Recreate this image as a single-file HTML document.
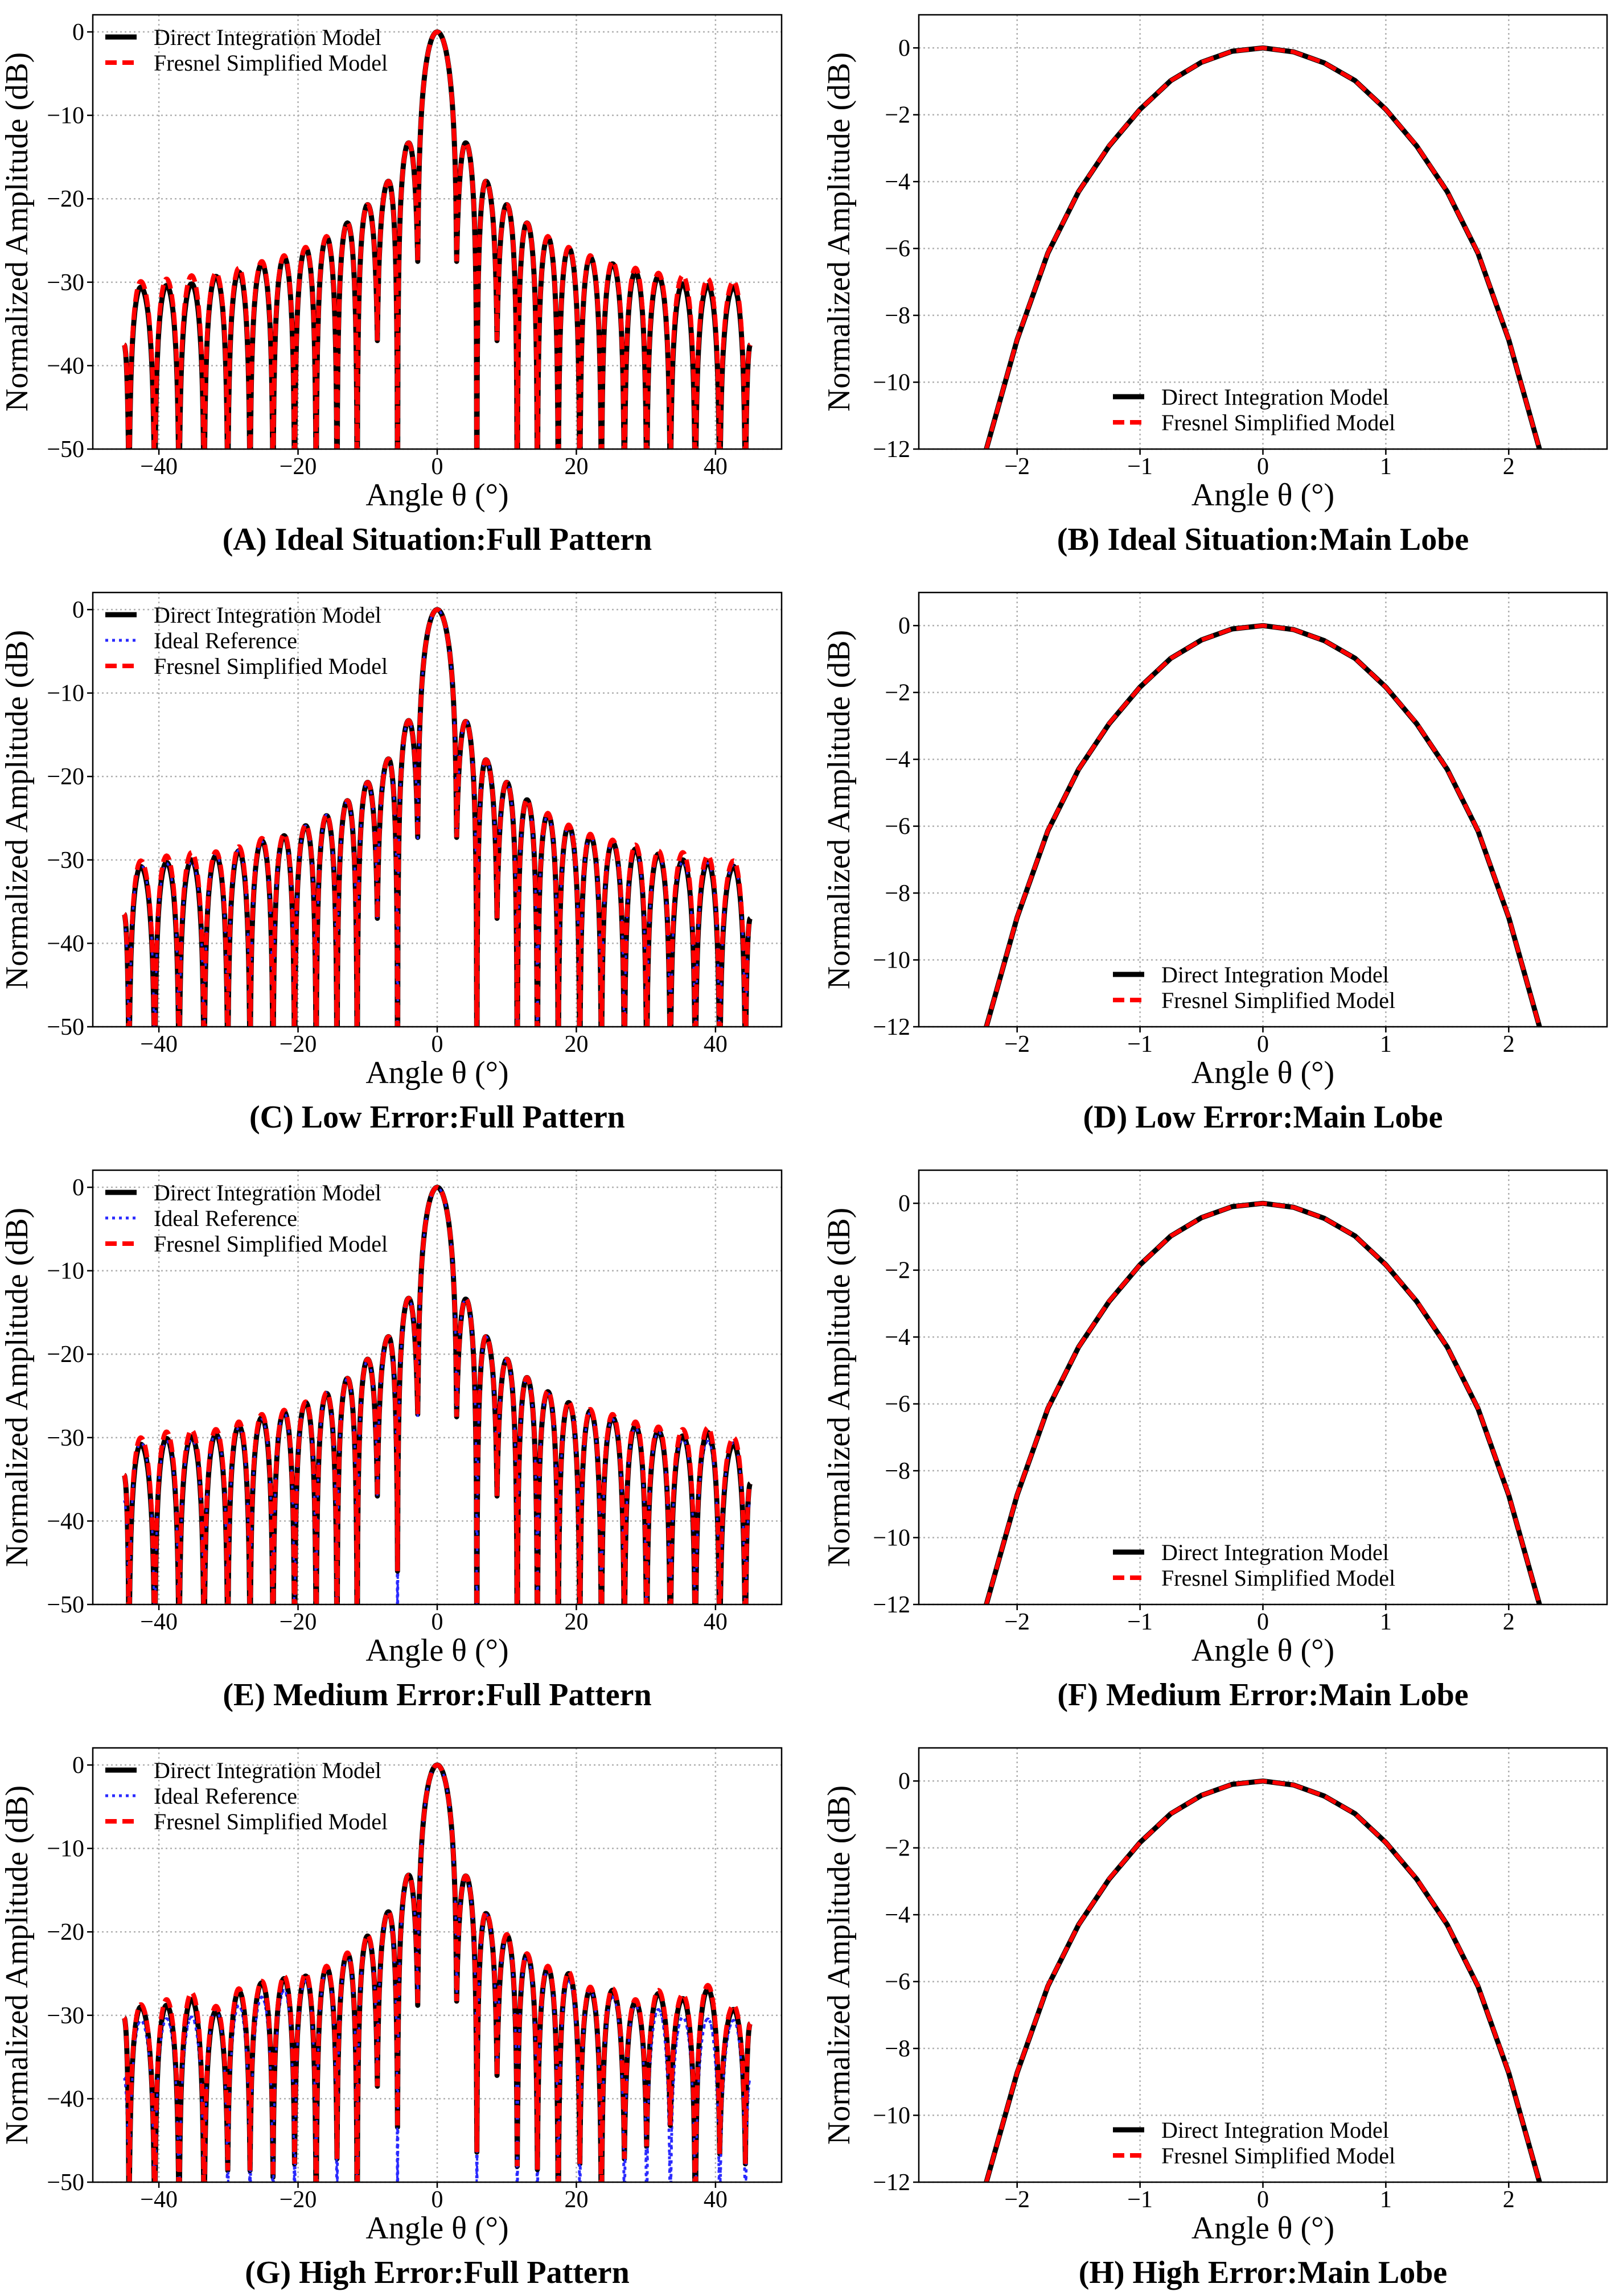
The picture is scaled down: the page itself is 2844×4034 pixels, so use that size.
<!DOCTYPE html>
<html><head><meta charset="utf-8">
<style>
html,body{margin:0;padding:0;background:#fff;}
svg{display:block;font-family:"Liberation Serif","DejaVu Serif",serif;}
</style></head>
<body>
<svg id="fig" xmlns="http://www.w3.org/2000/svg" width="2844" height="4034" viewBox="0 0 2844 4034"></svg>
<script>
// ---------- DATA ----------
const fullPeakAngles = [-42.6,-38.9,-35.3,-31.8,-28.5,-25.2,-22.0,-18.9,-15.9,-12.9,-10.0,-7.0,-4.1,0,4.1,7.0,10.0,12.9,15.9,18.9,22.0,25.2,28.5,31.8,35.3,38.9,42.6];
const fullDipAngles = [-44.3,-40.6,-37.1,-33.5,-30.1,-26.9,-23.6,-20.5,-17.4,-14.4,-11.5,-8.6,-5.7,-2.8,2.8,5.7,8.6,11.5,14.4,17.4,20.5,23.6,26.9,30.1,33.5,37.1,40.6,44.3];
const fullTicksX = [-40,-20,0,20,40];
const fullTicksY = [-50,-40,-30,-20,-10,0];

const idealPeaks = [-30.6,-30.4,-30.2,-29.3,-28.8,-27.8,-27.0,-25.9,-24.6,-22.9,-20.7,-17.9,-13.3,0,-13.3,-17.9,-20.7,-22.9,-24.6,-25.9,-27.0,-27.8,-28.8,-29.3,-30.2,-30.4,-30.6];
const idealFresnelPeaks = [-29.9,-29.6,-29.2,-28.9,-28.3,-27.5,-26.8,-25.8,-24.5,-22.9,-20.7,-17.9,-13.3,0,-13.3,-17.9,-20.7,-22.9,-24.5,-25.8,-26.8,-27.5,-28.3,-28.9,-29.2,-29.6,-29.9];
const idealDips = [-60,-60,-60,-60,-60,-60,-60,-60,-60,-60,-60,-37,-60,-27.5,-27.5,-60,-37,-60,-60,-60,-60,-60,-60,-60,-60,-60,-60,-60];

const lowPeaks = [-30.8,-30.3,-30.0,-29.5,-28.9,-27.7,-27.1,-25.9,-24.7,-22.9,-20.7,-17.9,-13.3,0,-13.4,-18.0,-20.7,-22.8,-24.5,-25.9,-27.1,-27.9,-28.7,-29.3,-30.0,-30.3,-30.8];
const lowFresnelPeaks = [-30.1,-29.5,-29.1,-29.0,-28.4,-27.4,-26.9,-25.8,-24.6,-22.9,-20.7,-17.9,-13.3,0,-13.4,-18.0,-20.7,-22.8,-24.4,-25.8,-26.9,-27.6,-28.2,-28.9,-29.1,-29.5,-30.1];
const lowDips = [-60,-60,-60,-60,-60,-60,-60,-60,-60,-60,-60,-37,-60,-27.3,-27.3,-60,-37,-60,-60,-60,-60,-60,-60,-60,-60,-60,-60,-60];

const medPeaks = [-30.8,-30.1,-29.9,-29.6,-28.6,-27.6,-26.9,-25.8,-24.7,-22.9,-20.6,-17.9,-13.3,0,-13.4,-17.9,-20.6,-22.8,-24.5,-25.8,-26.8,-27.6,-28.6,-29.2,-29.8,-29.4,-30.8];
const medFresnelPeaks = [-30.0,-29.3,-29.1,-29.0,-28.1,-27.2,-26.7,-25.7,-24.6,-22.9,-20.6,-17.9,-13.3,0,-13.4,-17.9,-20.6,-22.8,-24.4,-25.7,-26.6,-27.2,-28.1,-28.7,-29.0,-28.8,-30.0];
const medDips = [-60,-60,-60,-60,-60,-60,-60,-60,-60,-60,-60,-37,-46,-27.2,-27.5,-60,-37,-60,-60,-60,-60,-60,-60,-60,-60,-60,-60,-60];

const highPeaks = [-29.0,-28.8,-28.1,-29.5,-27.1,-26.1,-25.6,-25.3,-24.3,-22.6,-20.5,-17.6,-13.2,0,-13.3,-17.8,-20.4,-22.7,-24.3,-25.0,-26.9,-27.0,-28.4,-27.4,-28.0,-26.9,-29.3];
const highFresnelPeaks = [-28.7,-28.1,-27.3,-28.9,-26.8,-25.9,-25.3,-25.0,-24.1,-22.5,-20.4,-17.6,-13.2,0,-13.3,-17.7,-20.3,-22.6,-24.1,-24.8,-26.6,-26.8,-28.1,-27.0,-27.5,-26.4,-28.8];
const highDips = [-60,-60,-60,-60,-48.6,-48.6,-49.4,-47.8,-60,-47.2,-60,-38.5,-43.4,-28.8,-28.3,-46.4,-37.2,-48.1,-48.5,-60,-47.8,-60,-47.2,-45.7,-43.2,-60,-46.6,-47.8];

const fullEnds = {ideal:[-37.5,-37.5], low:[-36.5,-37.0], med:[-34.5,-35.5], high:[-30.3,-31.0]};

const mainAngles = [-2.25,-2.0,-1.75,-1.5,-1.25,-1.0,-0.75,-0.5,-0.25,0,0.25,0.5,0.75,1.0,1.25,1.5,1.75,2.0,2.25];
const mainVals = [-12.0,-8.73,-6.14,-4.3,-2.93,-1.84,-0.98,-0.43,-0.1,0,-0.12,-0.45,-0.98,-1.84,-2.93,-4.3,-6.14,-8.73,-12.0];
const mainFresnelVals = [-12.0,-8.72,-6.13,-4.3,-2.92,-1.84,-0.98,-0.43,-0.1,0,-0.12,-0.45,-0.98,-1.84,-2.92,-4.3,-6.13,-8.72,-12.0];
const mainTicksX = [-2,-1,0,1,2];
const mainTicksY = [-12,-10,-8,-6,-4,-2,0];

const panelTitles = ["(A) Ideal Situation:Full Pattern","(B) Ideal Situation:Main Lobe","(C) Low Error:Full Pattern","(D) Low Error:Main Lobe","(E) Medium Error:Full Pattern","(F) Medium Error:Main Lobe","(G) High Error:Full Pattern","(H) High Error:Main Lobe"];

// ---------- RENDER ----------
const NS = "http://www.w3.org/2000/svg";
const svg = document.getElementById('fig');
function mk(tag, attrs, parent){
  const e = document.createElementNS(NS, tag);
  for (const k in attrs) e.setAttribute(k, attrs[k]);
  (parent||svg).appendChild(e);
  return e;
}
const ROW = 1015;
const defs = mk('defs', {});

function lobePath(xs, ys, peaksA, peaksV, dipsA, dipsV, ends){
  const pts = [];
  const N = 24;
  function seg(pa, pv, da, dv, fromPeak){
    const D = Math.max(pv - dv, 0.01);
    const eps = Math.pow(10, -D/20);
    for (let i=0;i<=N;i++){
      const t = fromPeak ? i/N : 1 - i/N;
      const y = pv + 20*Math.log10(Math.cos(Math.PI*t/2)*(1-eps)+eps);
      const a = pa + (da - pa)*t;
      pts.push([xs(a), ys(y)]);
    }
  }
  seg(-45, ends[0], dipsA[0], dipsV[0], true);
  for (let k=0;k<peaksA.length;k++){
    seg(peaksA[k], peaksV[k], dipsA[k], dipsV[k], false);
    seg(peaksA[k], peaksV[k], dipsA[k+1], dipsV[k+1], true);
  }
  seg(45, ends[1], dipsA[dipsA.length-1], dipsV[dipsV.length-1], false);
  return 'M' + pts.map(p=>p[0].toFixed(1)+','+p[1].toFixed(1)).join('L');
}

function axesFrame(g, L, R, T, B, xs, ys, tx, ty){
  tx.forEach(v=>{
    const l = mk('line',{x1:xs(v),x2:xs(v),y1:T,y2:B,stroke:'#b0b0b0','stroke-width':2.5,'stroke-dasharray':'3 5'},g);
    
    
  });
  ty.forEach(v=>{
    const l = mk('line',{x1:L,x2:R,y1:ys(v),y2:ys(v),stroke:'#b0b0b0','stroke-width':2.5,'stroke-dasharray':'3 5'},g);
    
    
  });
}
function axesDecor(g, L, R, T, B, xs, ys, tx, ty){
  const fr = mk('rect',{x:L,y:T,width:R-L,height:B-T,fill:'none',stroke:'#000','stroke-width':2.5},g);
  
  
  tx.forEach(v=>{
    mk('line',{x1:xs(v),x2:xs(v),y1:B,y2:B+10,stroke:'#000','stroke-width':2.5},g);
    const t = mk('text',{x:xs(v),y:B+44,'font-size':42,'text-anchor':'middle',fill:'#000'},g);
    t.textContent = (v<0?'\u2212':'')+Math.abs(v);
    
    
  });
  ty.forEach(v=>{
    mk('line',{x1:L-10,x2:L,y1:ys(v),y2:ys(v),stroke:'#000','stroke-width':2.5},g);
    const t = mk('text',{x:L-15,y:ys(v)+14,'font-size':42,'text-anchor':'end',fill:'#000'},g);
    t.textContent = (v<0?'\u2212':'')+Math.abs(v);
    
    
  });
  const xl = mk('text',{x:(L+R)/2,y:B+99,'font-size':56,'text-anchor':'middle',fill:'#000'},g);
  xl.textContent = 'Angle \u03b8 (\u00b0)';
  
  
}
function yTitle(g, cx, cy){
  const t = mk('text',{x:0,y:0,'font-size':56,'text-anchor':'middle',fill:'#000',transform:`translate(${cx},${cy}) rotate(-90)`},g);
  t.textContent = 'Normalized Amplitude (dB)';
  
  
}
function legend(g, x, y, entries){
  entries.forEach((e,i)=>{
    const yy = y + i*45;
    const ent = mk('g',{},g);
    
    
    const a = {x1:x,x2:x+55,y1:yy,y2:yy,stroke:e.c,'stroke-width':e.w};
    if (e.d) a['stroke-dasharray']=e.d;
    mk('line',a,ent);
    const t = mk('text',{x:x+85,y:yy+14,'font-size':40,fill:'#000'},ent);
    t.textContent = e.label;
  });
}

const sets = [
  {key:'ideal', p:idealPeaks, f:idealFresnelPeaks, d:idealDips, blue:false},
  {key:'low', p:lowPeaks, f:lowFresnelPeaks, d:lowDips, blue:true},
  {key:'med', p:medPeaks, f:medFresnelPeaks, d:medDips, blue:true},
  {key:'high', p:highPeaks, f:highFresnelPeaks, d:highDips, blue:true}
];

sets.forEach((s, r)=>{
  const off = r*ROW;
  {
    const L=163,R=1373,T=26+off,B=789+off;
    const xs = v => L + (v+49.5)/99*(R-L);
    const ys = v => B - (v+50)/52.05*(B-T);
    const g = mk('g',{});
    
    
    const cid = 'clipF'+r;
    const cp = mk('clipPath',{id:cid},defs);
    mk('rect',{x:L,y:T,width:R-L,height:B-T},cp);
    axesFrame(g,L,R,T,B,xs,ys,fullTicksX,fullTicksY);
    const ends = fullEnds[s.key];
    const pg = mk('g',{'clip-path':`url(#${cid})`},g);
    if (s.blue){
      const pbl = mk('path',{d:lobePath(xs,ys,fullPeakAngles,idealPeaks,fullDipAngles,idealDips,fullEnds.ideal),fill:'none',stroke:'#2a2aff','stroke-width':5,'stroke-dasharray':'5 7'},pg);
      
      
    }
    const pb = mk('path',{d:lobePath(xs,ys,fullPeakAngles,s.p,fullDipAngles,s.d,ends),fill:'none',stroke:'#000','stroke-width':9,'stroke-linejoin':'round'},pg);
    
    
    if (s.blue){
      const pbl2 = mk('path',{d:lobePath(xs,ys,fullPeakAngles,idealPeaks,fullDipAngles,idealDips,fullEnds.ideal),fill:'none',stroke:'#2a2aff','stroke-width':4,'stroke-dasharray':'5 9','stroke-dashoffset':3},pg);
      
      
    }
    const pr = mk('path',{d:lobePath(xs,ys,fullPeakAngles,s.f,fullDipAngles,s.d,ends),fill:'none',stroke:'#ff0000','stroke-width':8,'stroke-dasharray':'22 10'},pg);
    
    
    axesDecor(g,L,R,T,B,xs,ys,fullTicksX,fullTicksY);
    yTitle(g,48,(T+B)/2);
    const ent = [{c:'#000',w:9,label:'Direct Integration Model'}];
    if (s.blue) ent.push({c:'#2a2aff',w:5,d:'5 7',label:'Ideal Reference'});
    ent.push({c:'#ff0000',w:8,d:'20 10',label:'Fresnel Simplified Model'});
    legend(g,185,T+39,ent);
    const t = mk('text',{x:(L+R)/2,y:B+177,'font-size':56,'font-weight':'bold','text-anchor':'middle',fill:'#000'},g);
    t.textContent = panelTitles[r*2];
    
    
  }
  {
    const L=1614,R=2823,T=26+off,B=789+off;
    const xs = v => L + (v+2.8)/5.6*(R-L);
    const ys = v => B - (v+12)/12.99*(B-T);
    const g = mk('g',{});
    
    
    const cid = 'clipM'+r;
    const cp = mk('clipPath',{id:cid},defs);
    mk('rect',{x:L,y:T,width:R-L,height:B-T},cp);
    axesFrame(g,L,R,T,B,xs,ys,mainTicksX,mainTicksY);
    const pg = mk('g',{'clip-path':`url(#${cid})`},g);
    const d1 = 'M'+mainAngles.map((a,i)=>xs(a).toFixed(1)+','+ys(mainVals[i]).toFixed(1)).join('L');
    const d2 = 'M'+mainAngles.map((a,i)=>xs(a).toFixed(1)+','+ys(mainFresnelVals[i]).toFixed(1)).join('L');
    const pb = mk('path',{d:d1,fill:'none',stroke:'#000','stroke-width':9,'stroke-linejoin':'round'},pg);
    
    
    const pr = mk('path',{d:d2,fill:'none',stroke:'#ff0000','stroke-width':7,'stroke-dasharray':'22 10'},pg);
    
    
    axesDecor(g,L,R,T,B,xs,ys,mainTicksX,mainTicksY);
    yTitle(g,1492,(T+B)/2);
    legend(g,1955,T+671,[{c:'#000',w:9,label:'Direct Integration Model'},{c:'#ff0000',w:8,d:'20 10',label:'Fresnel Simplified Model'}]);
    const t = mk('text',{x:(L+R)/2,y:B+177,'font-size':56,'font-weight':'bold','text-anchor':'middle',fill:'#000'},g);
    t.textContent = panelTitles[r*2+1];
    
    
  }
});
</script>
</body></html>
